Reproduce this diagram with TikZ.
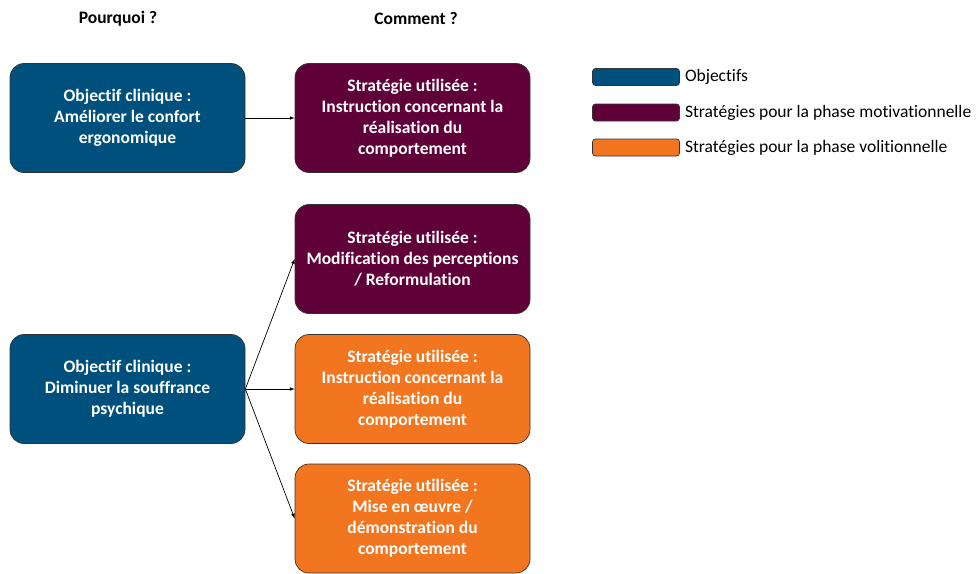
\documentclass[tikz,border=0pt]{standalone}
\usepackage{fontspec}
\setmainfont{Carlito}[Ligatures = NoCommon]
\usepackage{tikz}
\usetikzlibrary{arrows, positioning}

\definecolor{objblue}{RGB}{0,80,125}
\definecolor{motivpurple}{RGB}{96,0,56}
\definecolor{volorange}{RGB}{242,118,32}

\begin{document}
\begin{tikzpicture}[x = 1pt, y = -1pt,
    box/.style = {draw = black!80, line width = 0.7pt, rounded corners = 14pt, minimum width = 235pt, minimum height = 109pt, align = center, text = white, font = \fontsize{17.5}{21}\selectfont\bfseries},
    objbox/.style = {box, fill = objblue},
    motivbox/.style = {box, fill = motivpurple},
    volbox/.style = {box, fill = volorange},
    swatch/.style = {draw = black!80, line width = 0.7pt, rounded corners = 3pt, minimum width = 87pt, minimum height = 17pt, inner sep = 0pt},
    legendtext/.style = {right = 5pt, inner sep = 0pt, font = \fontsize{17.5}{21}\selectfont},
    header/.style = {font = \fontsize{17.5}{21}\selectfont\bfseries}]
  \useasboundingbox (0,0) rectangle (976,573);

  % headers
  \node[header] (why) at (118,19) {Pourquoi ?};
  \node[header] (how) at (416,19) {Comment ?};

  % goals
  \node[objbox] (obj1) at (127.5,118) {Objectif clinique :\\Améliorer le confort\\ergonomique};
  \node[objbox] (obj2) at (127.5,389) {Objectif clinique :\\Diminuer la souffrance\\psychique};

  % strategies
  \node[motivbox] (strat1) at (412.5,118) {Stratégie utilisée :\\Instruction concernant la\\réalisation du\\comportement};
  \node[motivbox] (strat2) at (412.5,259) {Stratégie utilisée :\\Modification des perceptions\\/ Reformulation};
  \node[volbox] (strat3) at (412.5,389) {Stratégie utilisée :\\Instruction concernant la\\réalisation du\\comportement};
  \node[volbox] (strat4) at (412.5,518.5) {Stratégie utilisée :\\Mise en œuvre /\\démonstration du\\comportement};

  \path[-latex, line width = 0.7pt] (obj1) edge (strat1)
                                    (obj2.east) edge (strat2.west)
                                    (obj2.east) edge (strat3.west)
                                    (obj2.east) edge (strat4.west);

  % legend
  \node[swatch, fill = objblue] (leg1) at (636,77) {};
  \node[swatch, fill = motivpurple] (leg2) at (636,112.5) {};
  \node[swatch, fill = volorange] (leg3) at (636,147.5) {};
  \node[legendtext] (legtext1) at (leg1.east) {Objectifs};
  \node[legendtext] (legtext2) at (leg2.east) {Stratégies pour la phase motivationnelle};
  \node[legendtext] (legtext3) at (leg3.east) {Stratégies pour la phase volitionnelle};
\end{tikzpicture}
\end{document}
